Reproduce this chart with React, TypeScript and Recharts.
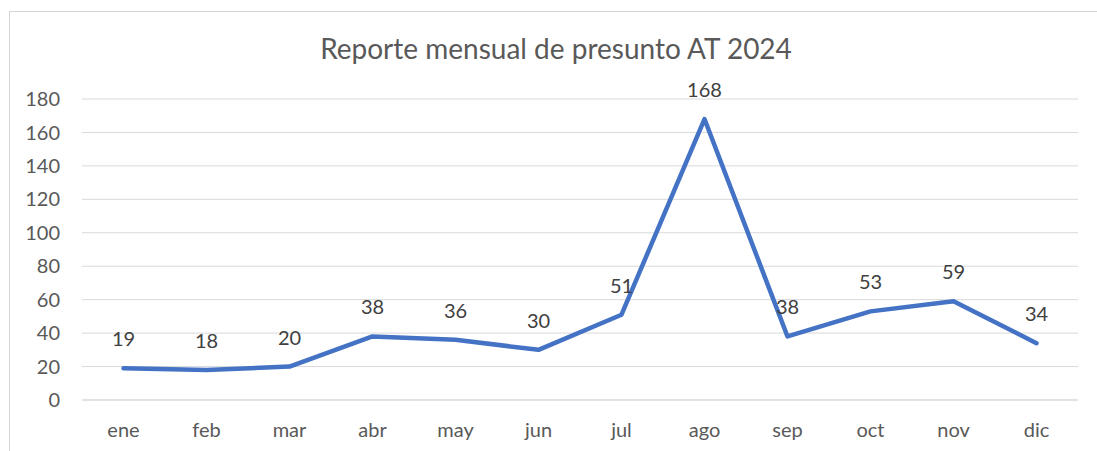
import React from 'react';
import { LineChart, Line, XAxis, YAxis, CartesianGrid, LabelList } from 'recharts';

const months = ['ene', 'feb', 'mar', 'abr', 'may', 'jun', 'jul', 'ago', 'sep', 'oct', 'nov', 'dic'];
const casos = [19, 18, 20, 38, 36, 30, 51, 168, 38, 53, 59, 34];
const yTicks = [0, 20, 40, 60, 80, 100, 120, 140, 160, 180];

const data = months.map((m, i) => ({ mes: m, casos: casos[i] }));

const FONT = 'Lato, "Liberation Sans", sans-serif';

export default function App() {
  return (
    <div
      style={{
        position: 'absolute',
        left: 0,
        top: 0,
        width: 1097,
        height: 451,
        overflow: 'hidden',
        background: '#fff',
        fontFamily: FONT,
      }}
    >
      <div
        style={{
          position: 'absolute',
          left: 9,
          top: 11,
          width: 1200,
          height: 600,
          border: '1px solid #d4d4d4',
        }}
      />
      <div
        style={{
          position: 'absolute',
          left: 0,
          width: 1112,
          top: 31,
          textAlign: 'center',
          fontSize: 28,
          lineHeight: '34px',
          color: '#595959',
        }}
      >
        Reporte mensual de presunto AT 2024
      </div>
      <div style={{ position: 'absolute', left: 0, top: 0 }}>
        <LineChart
          width={1097}
          height={451}
          data={data}
          margin={{ top: 99, right: 19, bottom: 0, left: 0 }}
        >
          <CartesianGrid vertical={false} stroke="#d9d9d9" strokeWidth={1} />
          <XAxis
            dataKey="mes"
            scale="band"
            height={51}
            tickLine={false}
            axisLine={{ stroke: '#d9d9d9' }}
            tickSize={0}
            tickMargin={23}
            tick={{ fill: '#595959', fontSize: 20, fontFamily: FONT }}
          />
          <YAxis
            width={82}
            domain={[0, 180]}
            ticks={yTicks}
            axisLine={false}
            tickLine={false}
            tickSize={0}
            tickMargin={22}
            tick={{ fill: '#595959', fontSize: 20, fontFamily: FONT }}
          />
          <Line
            type="linear"
            dataKey="casos"
            stroke="#4472C4"
            strokeWidth={4.5}
            strokeLinecap="round"
            strokeLinejoin="round"
            dot={false}
            isAnimationActive={false}
          >
            <LabelList
              dataKey="casos"
              position="top"
              offset={22}
              fill="#404040"
              fontSize={20}
              fontFamily={FONT}
            />
          </Line>
        </LineChart>
      </div>
    </div>
  );
}
